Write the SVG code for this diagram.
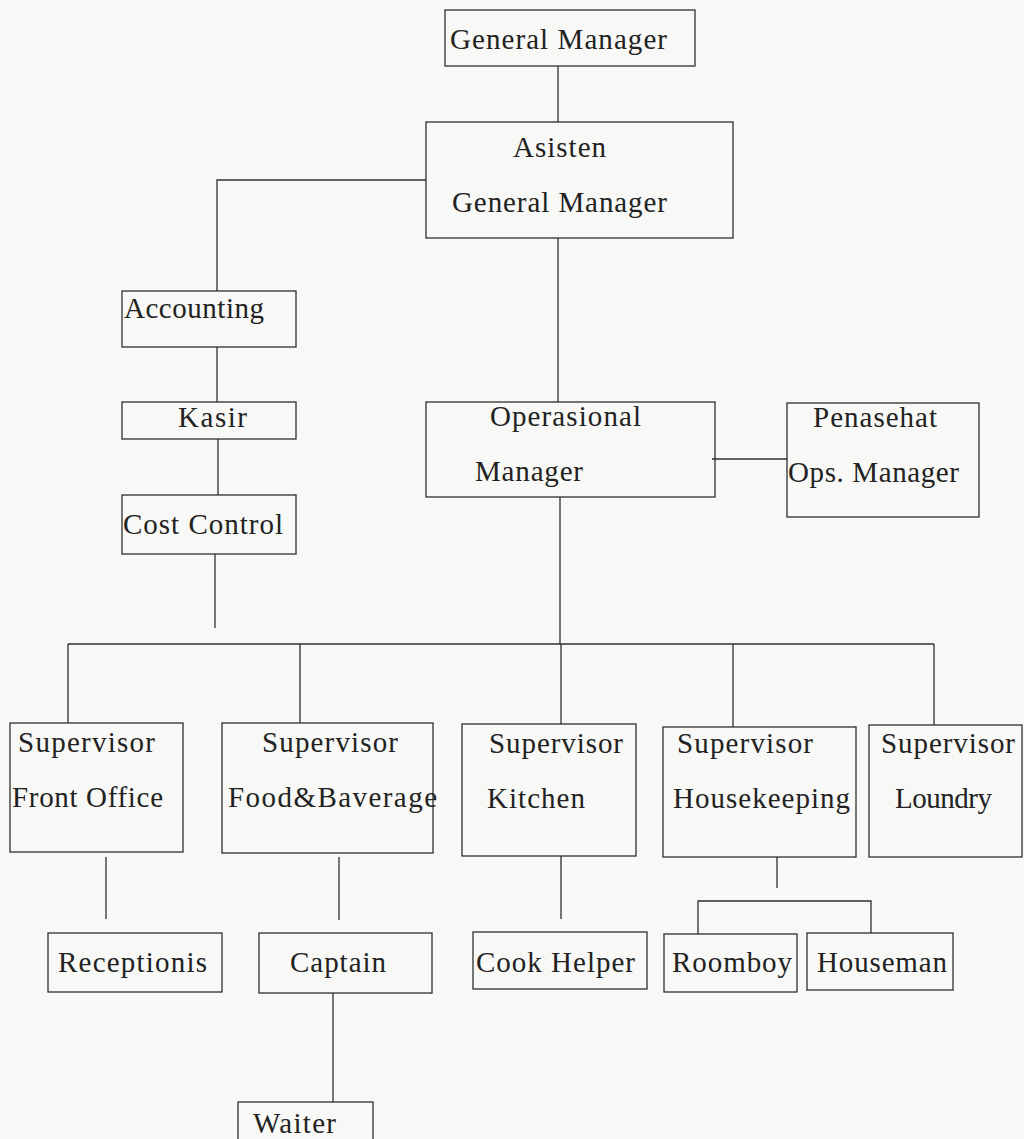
<svg xmlns="http://www.w3.org/2000/svg" width="1024" height="1139" viewBox="0 0 1024 1139">
<style>
.box{fill:none;stroke:#2e2e2e;stroke-width:1.3}
.ln{fill:none;stroke:#2e2e2e;stroke-width:1.3}
text{font-family:"Liberation Serif","Times New Roman",serif;font-size:29px;fill:#222}
</style>
<rect x="0" y="0" width="1024" height="1139" fill="#f8f9f6"/>
<g id="connectors">
<path class="ln" d="M558,66V122"/>
<path class="ln" d="M426,180H217V291"/>
<path class="ln" d="M217,347V402"/>
<path class="ln" d="M218,439V495"/>
<path class="ln" d="M215,554V628"/>
<path class="ln" d="M558,238V402"/>
<path class="ln" d="M712,459H787"/>
<path class="ln" d="M560,497V644"/>
<path class="ln" d="M68,644H934"/>
<path class="ln" d="M68,644V723"/>
<path class="ln" d="M300,644V723"/>
<path class="ln" d="M561,644V724"/>
<path class="ln" d="M733,644V727"/>
<path class="ln" d="M934,644V725"/>
<path class="ln" d="M106,857V919"/>
<path class="ln" d="M339,857V920"/>
<path class="ln" d="M561,856V919"/>
<path class="ln" d="M333,993V1102"/>
<path class="ln" d="M777,857V888"/>
<path class="ln" d="M698,934V901H871V933"/>
</g>
<g id="general-manager"><rect class="box" x="445" y="10" width="250" height="56"/><text x="450" y="49" textLength="217" lengthAdjust="spacing">General Manager</text></g>
<g id="asisten-gm"><rect class="box" x="426" y="122" width="307" height="116"/><text x="513" y="157" textLength="93" lengthAdjust="spacing">Asisten</text><text x="452" y="212" textLength="215" lengthAdjust="spacing">General Manager</text></g>
<g id="accounting"><rect class="box" x="122" y="291" width="174" height="56"/><text x="124" y="318" textLength="140" lengthAdjust="spacing">Accounting</text></g>
<g id="kasir"><rect class="box" x="122" y="402" width="174" height="37"/><text x="178" y="427" textLength="69" lengthAdjust="spacing">Kasir</text></g>
<g id="cost-control"><rect class="box" x="122" y="495" width="174" height="59"/><text x="123" y="534" textLength="160" lengthAdjust="spacing">Cost Control</text></g>
<g id="operasional-manager"><rect class="box" x="426" y="402" width="289" height="95"/><text x="490" y="426" textLength="151" lengthAdjust="spacing">Operasional</text><text x="475" y="481" textLength="108" lengthAdjust="spacing">Manager</text></g>
<g id="penasehat"><rect class="box" x="787" y="403" width="192" height="114"/><text x="813" y="427" textLength="124" lengthAdjust="spacing">Penasehat</text><text x="788" y="482" textLength="171" lengthAdjust="spacing">Ops. Manager</text></g>
<g id="sup-front-office"><rect class="box" x="10" y="723" width="173" height="129"/><text x="18" y="752" textLength="137" lengthAdjust="spacing">Supervisor</text><text x="12" y="807" textLength="151" lengthAdjust="spacing">Front Office</text></g>
<g id="sup-fnb"><rect class="box" x="222" y="723" width="211" height="130"/><text x="262" y="752" textLength="136" lengthAdjust="spacing">Supervisor</text><text x="228" y="807" textLength="209" lengthAdjust="spacing">Food&amp;Baverage</text></g>
<g id="sup-kitchen"><rect class="box" x="462" y="724" width="174" height="132"/><text x="489" y="753" textLength="134" lengthAdjust="spacing">Supervisor</text><text x="487" y="808" textLength="98" lengthAdjust="spacing">Kitchen</text></g>
<g id="sup-housekeeping"><rect class="box" x="663" y="727" width="193" height="130"/><text x="677" y="753" textLength="136" lengthAdjust="spacing">Supervisor</text><text x="673" y="808" textLength="177" lengthAdjust="spacing">Housekeeping</text></g>
<g id="sup-laundry"><rect class="box" x="869" y="725" width="153" height="132"/><text x="881" y="753" textLength="134" lengthAdjust="spacing">Supervisor</text><text x="895" y="808" textLength="97" lengthAdjust="spacing">Loundry</text></g>
<g id="receptionis"><rect class="box" x="48" y="933" width="174" height="59"/><text x="58" y="972" textLength="149" lengthAdjust="spacing">Receptionis</text></g>
<g id="captain"><rect class="box" x="259" y="933" width="173" height="60"/><text x="290" y="972" textLength="96" lengthAdjust="spacing">Captain</text></g>
<g id="cook-helper"><rect class="box" x="473" y="932" width="174" height="57"/><text x="476" y="972" textLength="159" lengthAdjust="spacing">Cook Helper</text></g>
<g id="roomboy"><rect class="box" x="664" y="934" width="133" height="58"/><text x="672" y="972" textLength="120" lengthAdjust="spacing">Roomboy</text></g>
<g id="houseman"><rect class="box" x="807" y="933" width="146" height="57"/><text x="817" y="972" textLength="130" lengthAdjust="spacing">Houseman</text></g>
<g id="waiter"><rect class="box" x="238" y="1102" width="135" height="60"/><text x="253" y="1133" textLength="83" lengthAdjust="spacing">Waiter</text></g>
</svg>
